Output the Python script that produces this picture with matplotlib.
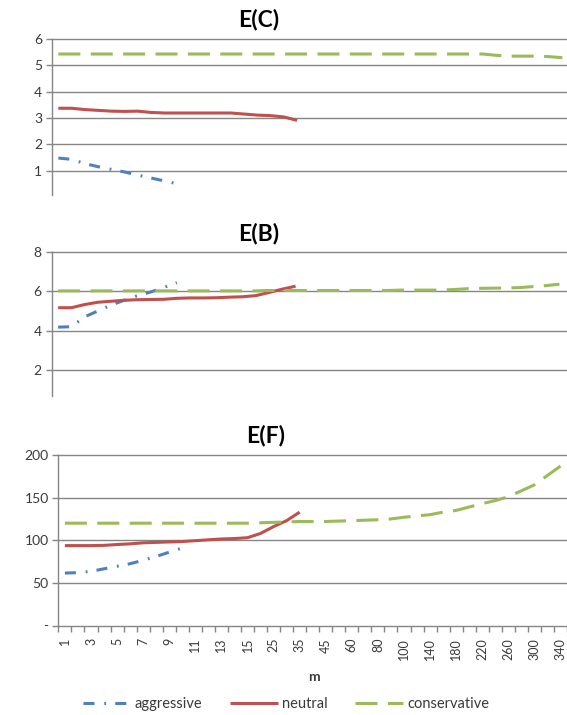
import matplotlib
matplotlib.use("Agg")
import matplotlib.pyplot as plt
from matplotlib.lines import Line2D

plt.rcParams['font.family'] = ['Lato', 'DejaVu Sans']

# Category axis: number of steps m
m_labels = ['1', '2', '3', '4', '5', '6', '7', '8', '9', '10', '11', '12', '13',
            '14', '15', '20', '25', '30', '35', '40', '45', '50', '60', '70',
            '80', '90', '100', '120', '140', '160', '180', '200', '220', '240',
            '260', '280', '300', '320', '340']

series_names = ['aggressive', 'neutral', 'conservative']

# E(C)
ec_aggressive = [1.48, 1.43, 1.27, 1.15, 1.05, 0.95, 0.83, 0.72, 0.61, 0.50]
ec_neutral = [3.37, 3.37, 3.32, 3.29, 3.26, 3.25, 3.26, 3.21, 3.19, 3.19,
              3.19, 3.19, 3.19, 3.19, 3.15, 3.11, 3.09, 3.04, 2.91]
ec_conservative = [5.43, 5.43, 5.43, 5.43, 5.43, 5.43, 5.43, 5.43, 5.43, 5.43,
                   5.43, 5.43, 5.43, 5.43, 5.43, 5.43, 5.43, 5.43, 5.43, 5.43,
                   5.43, 5.43, 5.43, 5.43, 5.43, 5.43, 5.43, 5.43, 5.43, 5.43,
                   5.43, 5.43, 5.43, 5.38, 5.35, 5.35, 5.35, 5.33, 5.29]

# E(B)
eb_aggressive = [4.18, 4.20, 4.70, 5.00, 5.30, 5.55, 5.78, 5.97, 6.20, 6.45]
eb_neutral = [5.17, 5.17, 5.33, 5.45, 5.50, 5.55, 5.58, 5.59, 5.60, 5.65,
              5.67, 5.67, 5.68, 5.71, 5.73, 5.79, 5.95, 6.12, 6.27]
eb_conservative = [6.03, 6.03, 6.03, 6.03, 6.03, 6.03, 6.03, 6.03, 6.03, 6.03,
                   6.03, 6.03, 6.03, 6.03, 6.03, 6.03, 6.05, 6.05, 6.05, 6.05,
                   6.05, 6.05, 6.05, 6.05, 6.05, 6.05, 6.07, 6.07, 6.07, 6.07,
                   6.10, 6.14, 6.16, 6.17, 6.18, 6.20, 6.25, 6.30, 6.37]

# E(F)
ef_aggressive = [61.5, 62.0, 63.5, 66.5, 69.5, 72.5, 76.5, 81.0, 86.0, 91.0]
ef_neutral = [93.7, 93.7, 93.7, 94.0, 95.0, 95.8, 97.0, 97.5, 98.0, 98.5,
              99.5, 100.5, 101.5, 102.0, 103.0, 108.0, 116.0, 123.0, 133.0]
ef_conservative = [120.0, 120.0, 120.0, 120.0, 120.0, 120.0, 120.0, 120.0,
                   120.0, 120.0, 120.0, 120.0, 120.0, 120.0, 120.0, 120.5,
                   121.0, 121.5, 122.0, 122.0, 122.0, 122.5, 123.0, 123.5,
                   124.0, 125.0, 127.0, 128.5, 130.0, 133.0, 135.0, 139.0,
                   143.0, 146.5, 151.0, 158.0, 165.0, 176.0, 187.0]

ec_ticks = [1, 2, 3, 4, 5, 6]
eb_ticks = [2, 4, 6, 8]
ef_ticks = [0, 50, 100, 150, 200]
ef_ticklabels = ['-', '50', '100', '150', '200']

BLUE = '#4F81BD'
RED = '#C0504D'
GREEN = '#9BBB59'
GRID = '#868686'
TEXT = '#3A3A3A'
LW = 2.2

styles = {
    'aggressive': dict(color=BLUE, lw=LW, linestyle=(0, (3.6, 3.2, 0.6, 3.0)),
                       dash_capstyle='butt'),
    'neutral': dict(color=RED, lw=LW, linestyle='-', solid_capstyle='butt'),
    'conservative': dict(color=GREEN, lw=LW, linestyle=(0, (7.2, 3.4)),
                         dash_capstyle='butt'),
}

W, H = 567, 715
fig = plt.figure(figsize=(W / 100, H / 100), dpi=100)


def px_axes(left, right, top, bottom):
    return fig.add_axes([left / W, 1 - bottom / H, (right - left) / W,
                         (bottom - top) / H])


def style_axes(ax, yticks, ylim, spine_low, ticklabels=None, show_x=False):
    n = len(m_labels)
    ax.set_xlim(-0.5, n - 0.5)
    ax.set_ylim(*ylim)
    for s in ('top', 'right'):
        ax.spines[s].set_visible(False)
    ax.spines['left'].set_color(GRID)
    ax.spines['left'].set_linewidth(1.0)
    ax.spines['left'].set_bounds(spine_low, ylim[1])
    for t in yticks:
        if t == ylim[0] and show_x:
            continue
        ax.axhline(t, color=GRID, lw=1.0, zorder=0, clip_on=False)
    ax.set_yticks(yticks)
    if ticklabels is not None:
        ax.set_yticklabels(ticklabels)
    ax.tick_params(axis='y', direction='out', length=4, width=1.0,
                   color=GRID, labelsize=10, labelcolor=TEXT, pad=3)
    if show_x:
        ax.spines['bottom'].set_color(GRID)
        ax.spines['bottom'].set_linewidth(1.0)
        ax.set_xticks([i - 0.5 for i in range(n + 1)])
        ax.set_xticklabels([])
        ax.tick_params(axis='x', which='major', direction='out', length=4,
                       width=1.0, color=GRID)
        label_idx = list(range(0, n, 2))
        ax.set_xticks(label_idx, minor=True)
        ax.set_xticklabels([m_labels[i] for i in label_idx], minor=True,
                           rotation=90, fontsize=9, color=TEXT)
        ax.tick_params(axis='x', which='minor', length=0, pad=9)
    else:
        ax.spines['bottom'].set_visible(False)
        ax.set_xticks([])


def draw(ax, data):
    for name, vals in zip(series_names, data):
        ax.plot(range(len(vals)), vals, label=name, clip_on=False,
                solid_joinstyle='round', dash_joinstyle='round',
                **styles[name])


ax_c = px_axes(51.7, 569, 39, 197)
style_axes(ax_c, ec_ticks, (0, 6), 0.08)
draw(ax_c, [ec_aggressive, ec_neutral, ec_conservative])

ax_b = px_axes(51.5, 566, 252.3, 409)
style_axes(ax_b, eb_ticks, (0, 8), 0.67)
draw(ax_b, [eb_aggressive, eb_neutral, eb_conservative])

ax_f = px_axes(58.4, 567, 455, 625.5)
style_axes(ax_f, ef_ticks, (0, 200), 0, ticklabels=ef_ticklabels, show_x=True)
draw(ax_f, [ef_aggressive, ef_neutral, ef_conservative])

title_kw = dict(fontsize=16.5, fontweight='bold', color='black',
                ha='center', va='center')
fig.text(259 / W, 1 - 19 / H, 'E(C)', **title_kw)
fig.text(259 / W, 1 - 233 / H, 'E(B)', **title_kw)
fig.text(266 / W, 1 - 436 / H, 'E(F)', **title_kw)

fig.text(314 / W, 1 - 677 / H, 'm', fontsize=10, fontweight='bold',
         color=TEXT, ha='center', va='center')

handles = [Line2D([], [], **styles[n]) for n in series_names]
fig.legend(handles, series_names, loc='center', ncol=3,
           bbox_to_anchor=(286 / W, 1 - 704 / H), frameon=False,
           fontsize=10.5, labelcolor=TEXT, handlelength=3.3,
           handletextpad=0.25, columnspacing=1.9)

fig.savefig('out.png', dpi=100)
